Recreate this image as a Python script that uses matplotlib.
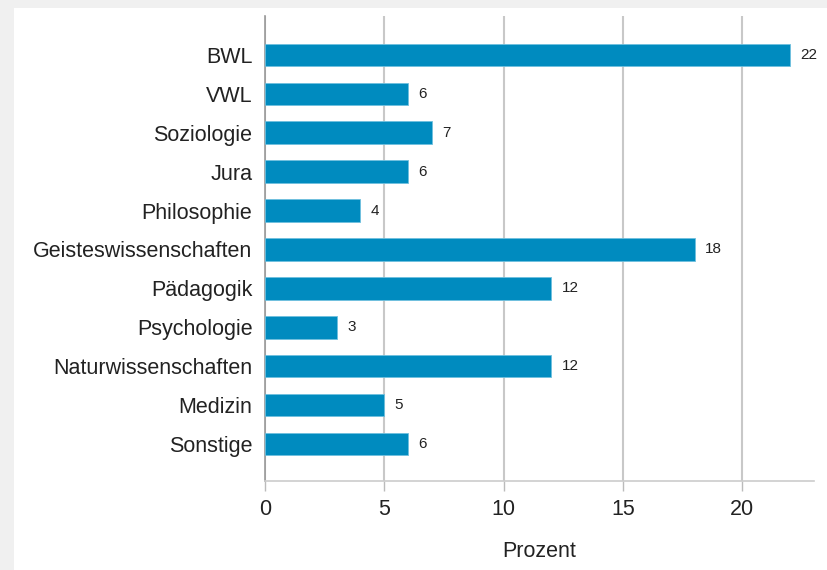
import matplotlib.pyplot as plt
from matplotlib.patches import Rectangle

# Studienfächer und Anteile in Prozent
faecher = ["BWL", "VWL", "Soziologie", "Jura", "Philosophie", "Geisteswissenschaften",
           "Pädagogik", "Psychologie", "Naturwissenschaften", "Medizin", "Sonstige"]
prozent = [22, 6, 7, 6, 4, 18, 12, 3, 12, 5, 6]
x_ticks = [0, 5, 10, 15, 20]

plt.rcParams['font.family'] = ['Liberation Sans', 'DejaVu Sans']

fig = plt.figure(figsize=(8.28, 5.7), dpi=100)
fig.patch.set_facecolor("#f0f0f0")
fig.patches.append(Rectangle((14 / 828, 0), 1, (570 - 8) / 570, transform=fig.transFigure,
                             facecolor="white", edgecolor="none", zorder=-10))

ax = fig.add_axes([265 / 828, (570 - 481) / 570, (814 - 265) / 828, (481 - 16) / 570])
ax.set_facecolor("none")

pos = list(range(len(faecher)))[::-1]
bars = ax.barh(pos, prozent, height=0.58, color="#008bbf", edgecolor="#6fc0de",
               linewidth=0.6, zorder=3)

for p, v in zip(pos, prozent):
    ax.annotate(str(v), (v, p), xytext=(7.5, 0), textcoords="offset points",
                va="center", ha="left", fontsize=11, color="#222222")

ax.set_xlim(0, 23)
ax.set_ylim(-0.95, 11.0)
ax.set_yticks(pos)
ax.set_yticklabels(faecher, fontsize=15.5, color="#222222")
ax.set_xticks(x_ticks)
ax.set_xticklabels([str(t) for t in x_ticks], fontsize=15.5, color="#222222")
ax.set_xlabel("Prozent", fontsize=15.5, color="#222222", labelpad=15)

ax.grid(axis="x", color="#c8c8c8", linewidth=1.5, zorder=0)
ax.tick_params(axis="y", length=0, pad=9)
ax.tick_params(axis="x", length=7, color="#bbbbbb", width=1, pad=6)

for s in ["top", "right"]:
    ax.spines[s].set_visible(False)
ax.spines["left"].set_color("#999999")
ax.spines["left"].set_linewidth(1.2)
ax.spines["bottom"].set_color("#cccccc")
ax.spines["bottom"].set_linewidth(1.2)

fig.savefig("out.png", dpi=100)
